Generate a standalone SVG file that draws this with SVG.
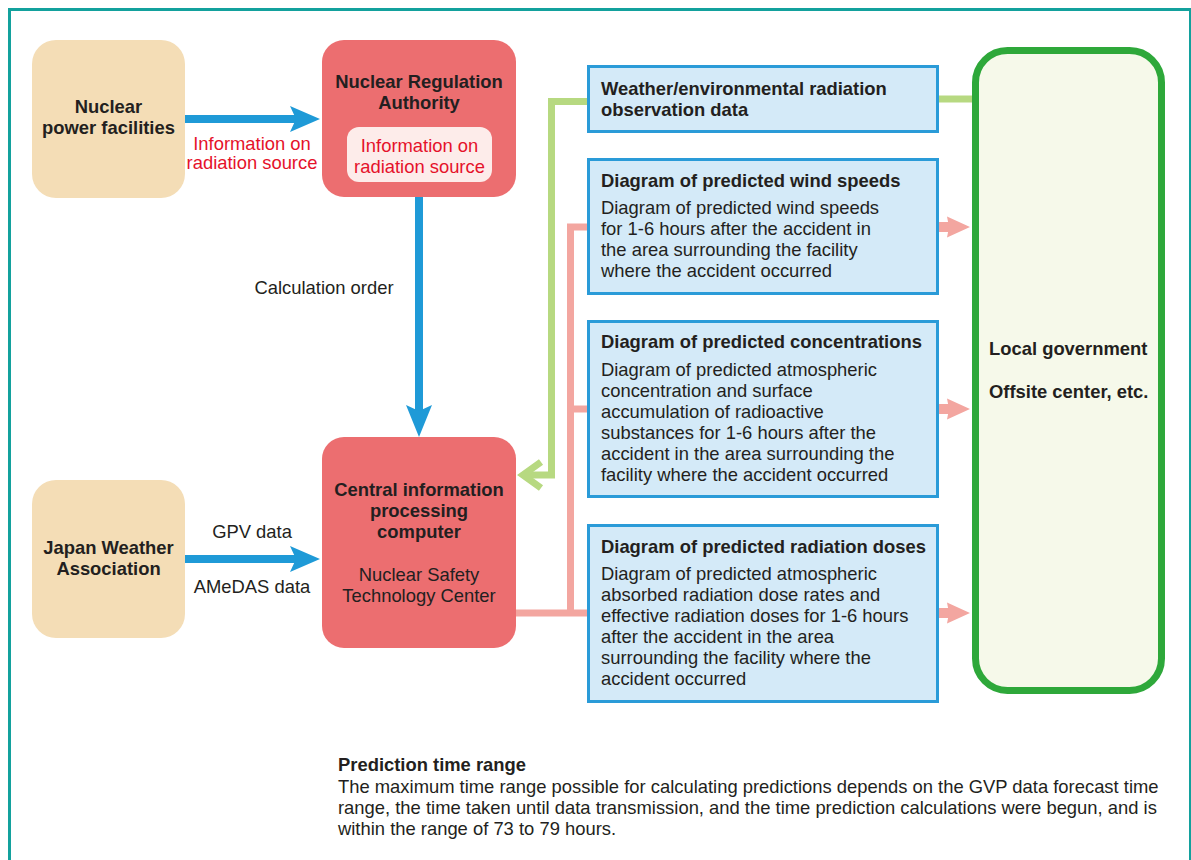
<svg xmlns="http://www.w3.org/2000/svg" width="1191" height="860" viewBox="0 0 1191 860">
<style>
text{font-family:"Liberation Sans",Arial,Helvetica,sans-serif;fill:#231f20;font-size:18.4px}
.b{font-weight:bold}
.c{text-anchor:middle}
.red{fill:#e5122a}
.tan{fill:#f4ddb6}
.rbox{fill:#ec6e70}
.bbox{fill:#d4eaf8;stroke:#2a9bd8;stroke-width:3}
.blue{fill:#1f9ad7}
.bl{stroke:#1f9ad7;stroke-width:8;fill:none}
.gl{stroke:#b7d981;stroke-width:7;fill:none}
.pl{stroke:#f3a6a0;stroke-width:7;fill:none}
.pa{fill:#f3a6a0}
</style>
<rect x="9.5" y="9.5" width="1181" height="880" fill="#fff" stroke="#13a19d" stroke-width="3"/>

<g id="connectors">
  <!-- blue arrows -->
  <line class="bl" x1="185" y1="119" x2="296" y2="119"/>
  <polygon class="blue" points="320,119 290,106 296,119 290,132"/>
  <line class="bl" x1="419" y1="197" x2="419" y2="412"/>
  <polygon class="blue" points="419,437 406,405 419,411 432,405"/>
  <line class="bl" x1="185" y1="559" x2="296" y2="559"/>
  <polygon class="blue" points="320,559 290,546 296,559 290,572"/>
  <!-- green -->
  <line class="gl" x1="939" y1="99" x2="973" y2="99"/>
  <polyline class="gl" points="588,101.5 551.5,101.5 551.5,475 524,475"/>
  <polyline class="gl" points="541,462 523,475 541,488" stroke-linejoin="miter"/>
  <!-- pink -->
  <polyline class="pl" points="588,227 570.5,227 570.5,613"/>
  <line class="pl" x1="570.5" y1="409" x2="588" y2="409"/>
  <line class="pl" x1="516" y1="613" x2="588" y2="613"/>
  <rect class="pa" x="939" y="222" width="10" height="10"/>
  <polygon class="pa" points="970,227 947,216.5 949,227 947,237.5"/>
  <rect class="pa" x="939" y="404" width="10" height="10"/>
  <polygon class="pa" points="970,409 947,398.5 949,409 947,419.5"/>
  <rect class="pa" x="939" y="608" width="10" height="10"/>
  <polygon class="pa" points="970,613 947,602.5 949,613 947,623.5"/>
</g>

<g id="label-info-source">
  <text class="c red" x="252" y="149.5" font-size="16.6">Information on</text>
  <text class="c red" x="252" y="168.5" font-size="16.6">radiation source</text>
</g>
<g id="label-calc-order">
  <text class="c" x="324" y="294">Calculation order</text>
</g>
<g id="label-gpv">
  <text class="c" x="252" y="538">GPV data</text>
  <text class="c" x="252" y="593">AMeDAS data</text>
</g>

<g id="nuclear-power">
  <rect class="tan" x="32" y="40" width="153" height="158" rx="24"/>
  <text class="b c" x="108.5" y="113">Nuclear</text>
  <text class="b c" x="108.5" y="134">power facilities</text>
</g>

<g id="nra">
  <rect class="rbox" x="322" y="40" width="194" height="157" rx="22"/>
  <text class="b c" x="419" y="88">Nuclear Regulation</text>
  <text class="b c" x="419" y="109">Authority</text>
  <rect x="347" y="127" width="145" height="55" rx="12" fill="#fdecea"/>
  <text class="c red" x="419.5" y="152">Information on</text>
  <text class="c red" x="419.5" y="173">radiation source</text>
</g>

<g id="central">
  <rect class="rbox" x="322" y="437" width="194" height="211" rx="22"/>
  <text class="b c" x="419" y="496">Central information</text>
  <text class="b c" x="419" y="517">processing</text>
  <text class="b c" x="419" y="538">computer</text>
  <text class="c" x="419" y="581">Nuclear Safety</text>
  <text class="c" x="419" y="602">Technology Center</text>
</g>

<g id="jwa">
  <rect class="tan" x="32" y="480" width="153" height="158" rx="24"/>
  <text class="b c" x="108.5" y="554">Japan Weather</text>
  <text class="b c" x="108.5" y="575">Association</text>
</g>

<g id="obs-data">
  <rect class="bbox" x="588.5" y="66.5" width="349" height="65"/>
  <text class="b" x="601" y="95">Weather/environmental radiation</text>
  <text class="b" x="601" y="116">observation data</text>
</g>

<g id="wind">
  <rect class="bbox" x="588.5" y="159.5" width="349" height="134"/>
  <text class="b" x="601" y="187">Diagram of predicted wind speeds</text>
  <text x="601" y="214">Diagram of predicted wind speeds</text>
  <text x="601" y="235">for 1-6 hours after the accident in</text>
  <text x="601" y="256">the area surrounding the facility</text>
  <text x="601" y="277">where the accident occurred</text>
</g>

<g id="concentration">
  <rect class="bbox" x="588.5" y="321.5" width="349" height="175"/>
  <text class="b" x="601" y="348">Diagram of predicted concentrations</text>
  <text x="601" y="376">Diagram of predicted atmospheric</text>
  <text x="601" y="397">concentration and surface</text>
  <text x="601" y="418">accumulation of radioactive</text>
  <text x="601" y="439">substances for 1-6 hours after the</text>
  <text x="601" y="460">accident in the area surrounding the</text>
  <text x="601" y="481">facility where the accident occurred</text>
</g>

<g id="doses">
  <rect class="bbox" x="588.5" y="525.5" width="349" height="176"/>
  <text class="b" x="601" y="553">Diagram of predicted radiation doses</text>
  <text x="601" y="580">Diagram of predicted atmospheric</text>
  <text x="601" y="601">absorbed radiation dose rates and</text>
  <text x="601" y="622">effective radiation doses for 1-6 hours</text>
  <text x="601" y="643">after the accident in the area</text>
  <text x="601" y="664">surrounding the facility where the</text>
  <text x="601" y="685">accident occurred</text>
</g>

<g id="local-gov">
  <rect x="975.5" y="50.5" width="186" height="640" rx="32" fill="#f6f9ea" stroke="#2ea83a" stroke-width="7"/>
  <text class="b" x="989" y="355">Local government</text>
  <text class="b" x="989" y="398">Offsite center, etc.</text>
</g>

<g id="note">
  <text class="b" x="338" y="771">Prediction time range</text>
  <text x="338" y="793">The maximum time range possible for calculating predictions depends on the GVP data forecast time</text>
  <text x="338" y="814">range, the time taken until data transmission, and the time prediction calculations were begun, and is</text>
  <text x="338" y="835">within the range of 73 to 79 hours.</text>
</g>
</svg>
